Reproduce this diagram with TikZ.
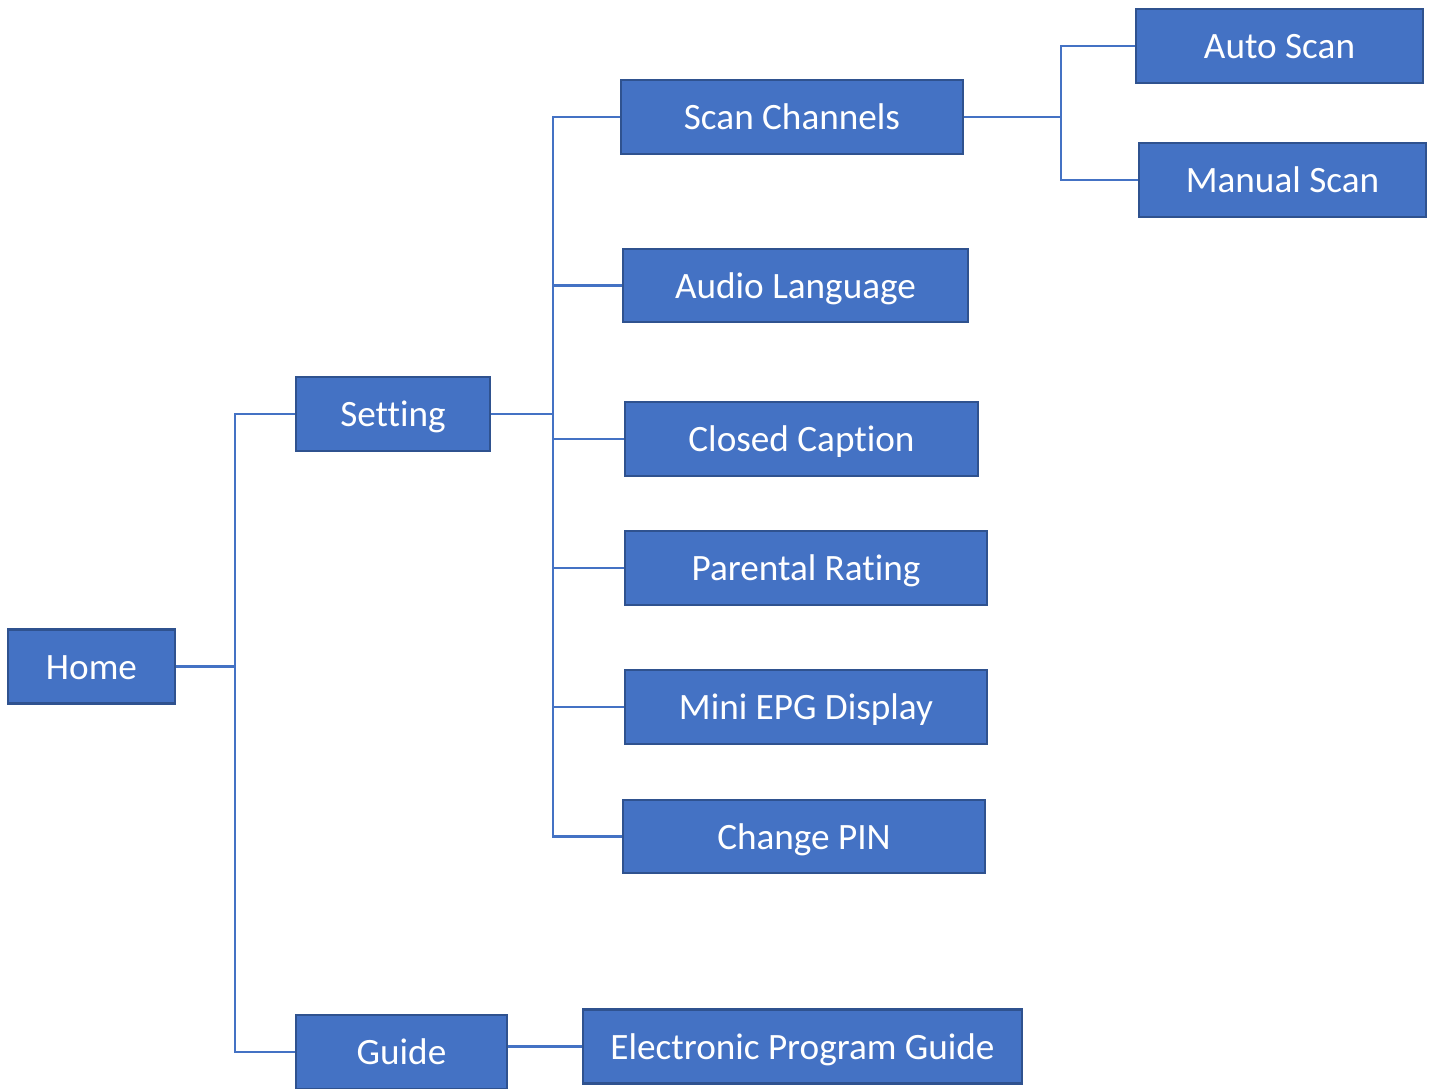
\documentclass[tikz,border=0pt]{standalone}
\usepackage{fontspec}
\setmainfont{Carlito}[Ligatures=NoCommon]
\usepackage{xcolor}
\definecolor{boxfill}{HTML}{4472C4}
\definecolor{boxline}{HTML}{2F528F}
\usetikzlibrary{positioning}

\begin{document}
\begin{tikzpicture}[
            x=0.5pt, y=-0.5pt,
            menu/.style={draw=boxline, fill=boxfill, line width=1.2pt, text=white,
                inner sep=0pt, minimum height=37pt, text height=16pt, text depth=3.2pt,
                font=\fontsize{18.6}{22}\selectfont},
            link/.style={draw=boxfill, line width=1.4pt}
        ]
        \useasboundingbox (0,0) rectangle (1434,1088);
        \clip (0,0) rectangle (1434,1088);
        % first level
        \node[menu, minimum width=83.5pt] (home) at (91.5,666.5) {Home};
        \node[menu, minimum width=97pt] (setting) at (393,414) {Setting};
        \node[menu, minimum width=105.5pt] (guide) at (401.5,1052) {Guide};
        \node[menu, minimum width=219.5pt] (epg) at (802.5,1046.5) {Electronic Program Guide};
        % setting menu
        \node[menu, minimum width=171pt] (scan) at (792,117) {Scan Channels};
        \node[menu, minimum width=172.5pt, minimum height=36.5pt] (audio) at (795.5,285.5) {Audio Language};
        \node[menu, minimum width=176.5pt] (caption) at (801.5,439) {Closed Caption};
        \node[menu, minimum width=181pt] (rating) at (806,568) {Parental Rating};
        \node[menu, minimum width=181pt] (mini) at (806,707) {Mini EPG Display};
        \node[menu, minimum width=181pt, minimum height=36.5pt] (pin) at (804,836.5) {Change PIN};
        % scan menu
        \node[menu, minimum width=143.5pt] (auto) at (1279.5,46) {Auto Scan};
        \node[menu, minimum width=143.5pt] (manual) at (1282.5,180) {Manual Scan};

        \coordinate (homejoint) at (235,666.5);
        \coordinate (setjoint) at (553,414);
        \coordinate (scanjoint) at (1061,117);

        \path[link] (home.east) -- (homejoint);
        \path[link] (setting.west) -| (homejoint) |- (guide.west);
        \path[link] (guide.east |- epg.west) -- (epg.west);

        \path[link] (setting.east) -- (setjoint);
        \path[link] (scan.west) -| (setjoint) |- (pin.west);
        \foreach \item in {audio, caption, rating, mini}
            \path[link] (setjoint |- \item.west) -- (\item.west);

        \path[link] (scan.east) -- (scanjoint);
        \path[link] (auto.west) -| (scanjoint) |- (manual.west);
\end{tikzpicture}
\end{document}
